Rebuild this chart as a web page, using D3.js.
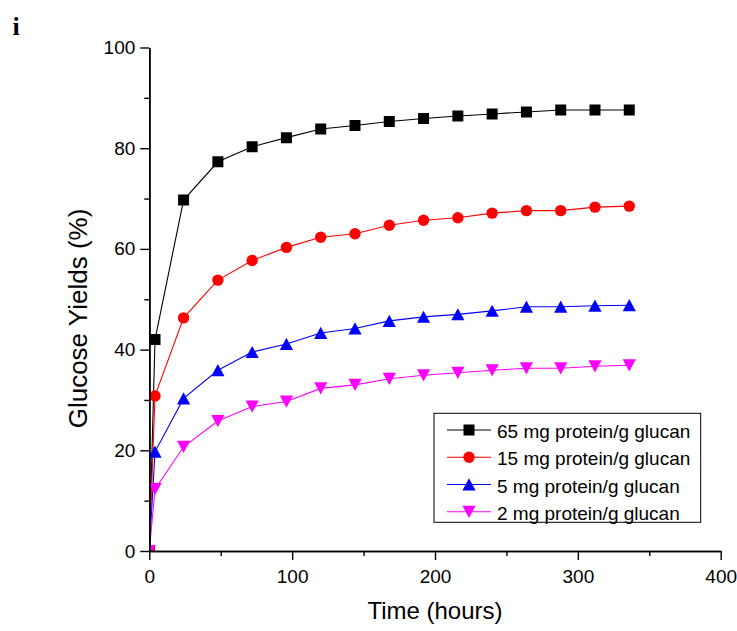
<!DOCTYPE html>
<html>
<head>
<meta charset="utf-8">
<script src="https://cdn.jsdelivr.net/npm/d3@7"></script>
<style>
  html, body { margin: 0; padding: 0; background: #fff; }
  svg { display: block; }
  text { font-family: "Liberation Sans", Arial, sans-serif; fill: #000; }
</style>
</head>
<body>
<svg id="chart" width="737" height="631"></svg>
<script>
// ---- data ----
const times = [0, 4, 24, 48, 72, 96, 120, 144, 168, 192, 216, 240, 264, 288, 312, 336];
const seriesNames = ["65 mg protein/g glucan", "15 mg protein/g glucan", "5 mg protein/g glucan", "2 mg protein/g glucan"];
const yield65 = [0, 42.0, 69.7, 77.3, 80.3, 82.1, 83.8, 84.5, 85.3, 85.9, 86.4, 86.8, 87.2, 87.6, 87.6, 87.6];
const yield15 = [0, 30.8, 46.3, 53.8, 57.7, 60.3, 62.3, 63.0, 64.7, 65.7, 66.2, 67.1, 67.6, 67.6, 68.3, 68.5];
const yield5  = [0, 19.7, 30.3, 35.9, 39.5, 41.1, 43.3, 44.2, 45.7, 46.5, 47.0, 47.7, 48.5, 48.5, 48.7, 48.8];
const yield2  = [0, 12.3, 20.7, 25.8, 28.7, 29.7, 32.3, 33.0, 34.2, 34.9, 35.4, 35.9, 36.3, 36.3, 36.7, 36.9];
const xTicks = [0, 100, 200, 300, 400];
const xMinorTicks = [50, 150, 250, 350];
const yTicks = [0, 20, 40, 60, 80, 100];
const yMinorTicks = [10, 30, 50, 70, 90];
const xTitle = "Time (hours)";
const yTitle = "Glucose Yields (%)";
const panelLabel = "i";

// ---- styles ----
const colors = ["#000000", "#ff0000", "#0000ff", "#ff00ff"];
const shapes = ["square", "circle", "triUp", "triDown"];
const seriesValues = [yield65, yield15, yield5, yield2];

const svg = d3.select("#chart");
const x = d3.scaleLinear().domain([0, 400]).range([149.3, 720.7]);
const y = d3.scaleLinear().domain([0, 100]).range([551, 47.5]);

// clip for plot area
svg.append("defs").append("clipPath").attr("id", "plotclip")
  .append("rect")
  .attr("x", x(0)).attr("y", y(100))
  .attr("width", x(400) - x(0)).attr("height", y(0) - y(100));

function markerPath(shape) {
  if (shape === "square") return "M-5.5,-5.5H5.5V5.5H-5.5Z";
  if (shape === "circle") return d3.symbol(d3.symbolCircle, Math.PI * 5.7 * 5.7)();
  if (shape === "triUp") return "M0,-6.2L6.6,6L-6.6,6Z";
  return "M0,6.2L6.6,-6L-6.6,-6Z";
}

// series
const plot = svg.append("g").attr("clip-path", "url(#plotclip)");
const line = d3.line().x(d => x(d[0])).y(d => y(d[1]));
seriesValues.forEach((vals, i) => {
  const pts = times.map((t, j) => [t, vals[j]]);
  const g = plot.append("g");
  g.append("path").datum(pts)
    .attr("d", line)
    .attr("fill", "none")
    .attr("stroke", colors[i])
    .attr("stroke-width", 1.1);
  g.selectAll("path.m").data(pts).enter().append("path")
    .attr("class", "m")
    .attr("transform", d => `translate(${x(d[0])},${y(d[1])})`)
    .attr("d", markerPath(shapes[i]))
    .attr("fill", colors[i]);
});

// axes
const fontSize = 19;
const yAxis = d3.axisLeft(y).tickValues(yTicks).tickSize(9).tickSizeOuter(0).tickPadding(5);
const yMinor = d3.axisLeft(y).tickValues(yMinorTicks).tickSize(5).tickSizeOuter(0).tickFormat("");
const xAxis = d3.axisBottom(x).tickValues(xTicks).tickSize(9).tickSizeOuter(0).tickPadding(9.5);
const xMinor = d3.axisBottom(x).tickValues(xMinorTicks).tickSize(5).tickSizeOuter(0).tickFormat("");

function styleAxis(g) {
  g.attr("font-family", null).attr("font-size", null);
  g.selectAll(".domain").attr("stroke", "#000").attr("stroke-width", 1.6);
  g.selectAll(".tick line").attr("stroke", "#000").attr("stroke-width", 1.4);
  g.selectAll(".tick text").style("font-size", fontSize + "px")
    .style("font-family", '"Liberation Sans", Arial, sans-serif');
}

svg.append("g").attr("transform", `translate(${x(0)},0)`).call(yMinor).call(styleAxis);
svg.append("g").attr("transform", `translate(${x(0)},0)`).call(yAxis).call(styleAxis);
svg.append("g").attr("transform", `translate(0,${y(0)})`).call(xMinor).call(styleAxis);
svg.append("g").attr("transform", `translate(0,${y(0)})`).call(xAxis).call(styleAxis);

// titles
svg.append("text")
  .attr("x", (x(0) + x(400)) / 2).attr("y", 619)
  .attr("text-anchor", "middle")
  .style("font-size", "24px")
  .text(xTitle);

svg.append("text")
  .attr("transform", "translate(87,318.5) rotate(-90)")
  .attr("text-anchor", "middle")
  .style("font-size", "26px")
  .text(yTitle);

svg.append("text")
  .attr("x", 12.5).attr("y", 35)
  .style("font-family", '"Liberation Serif", "Times New Roman", serif')
  .style("font-weight", "bold")
  .style("font-size", "26px")
  .text(panelLabel);

// legend
const legend = svg.append("g");
legend.append("rect")
  .attr("x", 434).attr("y", 413.3).attr("width", 266.7).attr("height", 109)
  .attr("fill", "#fff").attr("stroke", "#000").attr("stroke-width", 1);
const rowY = d3.scalePoint().domain(seriesNames).range([430, 511.7]);
seriesNames.forEach((name, i) => {
  const cy = rowY(name);
  legend.append("line")
    .attr("x1", 447).attr("x2", 491).attr("y1", cy).attr("y2", cy)
    .attr("stroke", colors[i]).attr("stroke-width", 1.1);
  legend.append("path")
    .attr("transform", `translate(469,${cy})`)
    .attr("d", markerPath(shapes[i]))
    .attr("fill", colors[i]);
  legend.append("text")
    .attr("x", 497).attr("y", cy + 8.2)
    .style("font-size", fontSize + "px")
    .text(name);
});
</script>
</body>
</html>
